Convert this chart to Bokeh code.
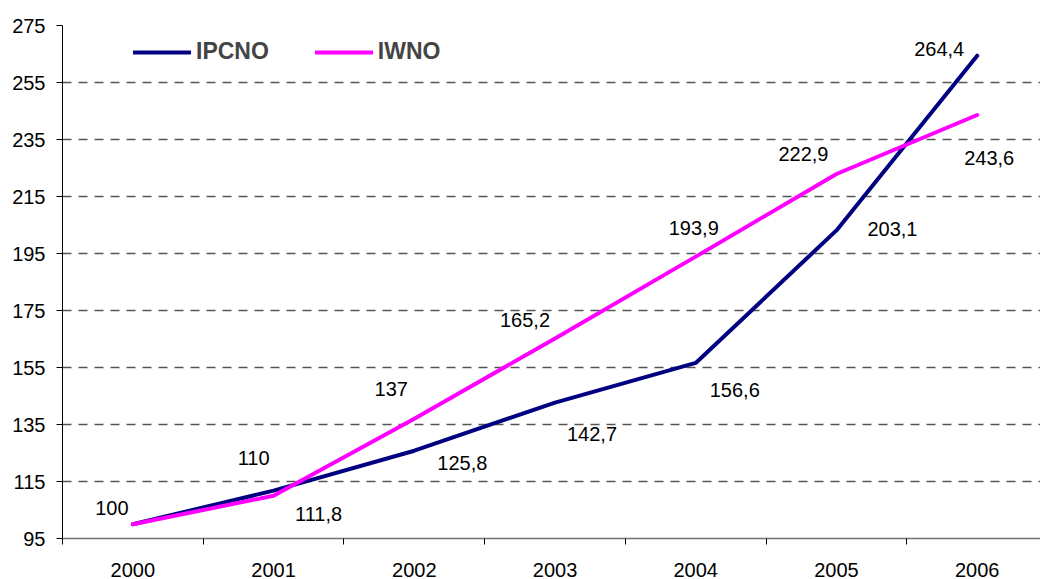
from bokeh.plotting import figure
from bokeh.models import ColumnDataSource, FixedTicker, Range1d, Legend
from bokeh.core.properties import value
from bokeh.embed import file_html
from bokeh.resources import INLINE

years = ["2000", "2001", "2002", "2003", "2004", "2005", "2006"]
ipcno = [100, 111.8, 125.8, 142.7, 156.6, 203.1, 264.4]
iwno = [100, 110, 137, 165.2, 193.9, 222.9, 243.6]
y_ticks = [95, 115, 135, 155, 175, 195, 215, 235, 255, 275]

# label placement (screen pixel offsets from each point)
ipcno_dx = [0, 45, 48, 37, 39, 56, -38]
ipcno_dy = [0, 23, 12, 31, 27, -1, -7]
iwno_dx = [-21, -20, -23, -30, -2, -33, 12]
iwno_dy = [-16, -38, -30, -18, -29, -20, 43]

FONT = "Liberation Sans"
idx = list(range(len(years)))

def fmt(v):
    s = ("%.1f" % v).rstrip("0").rstrip(".")
    return s.replace(".", ",")

p = figure(width=1040, height=579, output_backend="svg", toolbar_location=None,
           x_range=Range1d(-0.5, 6.45), y_range=Range1d(95, 275),
           min_border_left=62, min_border_right=0, min_border_top=25, min_border_bottom=41)
p.outline_line_color = None
p.background_fill_color = "white"
p.border_fill_color = "white"

r1 = p.line(idx, ipcno, line_color="#000080", line_width=4, line_cap="round", line_join="round")
r2 = p.line(idx, iwno, line_color="#FF00FF", line_width=4, line_cap="round", line_join="round")

src_a = ColumnDataSource(dict(x=idx[1:], y=ipcno[1:], t=[fmt(v) for v in ipcno[1:]],
                              dx=ipcno_dx[1:], dy=ipcno_dy[1:]))
src_b = ColumnDataSource(dict(x=idx, y=iwno, t=[fmt(v) for v in iwno], dx=iwno_dx, dy=iwno_dy))
for s in (src_a, src_b):
    p.text(x="x", y="y", text="t", x_offset="dx", y_offset="dy", source=s,
           text_font=value(FONT), text_font_size="20px", text_color="black",
           text_align="center", text_baseline="middle")

# axes
p.xaxis.ticker = FixedTicker(ticks=idx, minor_ticks=[i - 0.5 for i in idx])
p.xaxis.major_label_overrides = {i: y for i, y in zip(idx, years)}
p.xaxis.major_tick_out = 0
p.xaxis.major_tick_in = 0
p.xaxis.minor_tick_out = 6
p.xaxis.minor_tick_in = 0
p.xaxis.minor_tick_line_color = "black"
p.xaxis.axis_line_color = "#707070"
p.xaxis.axis_line_width = 1.5
p.xaxis.major_label_standoff = 18
p.xaxis.major_label_text_font = FONT
p.xaxis.major_label_text_font_size = "20px"
p.xaxis.major_label_text_color = "black"

p.yaxis.ticker = FixedTicker(ticks=y_ticks, minor_ticks=[])
p.yaxis.major_tick_out = 6
p.yaxis.major_tick_in = 0
p.yaxis.axis_line_color = "black"
p.yaxis.major_tick_line_color = "black"
p.yaxis.major_label_standoff = 11
p.yaxis.major_label_text_font = FONT
p.yaxis.major_label_text_font_size = "20px"
p.yaxis.major_label_text_color = "black"

p.xgrid.grid_line_color = None
p.ygrid.grid_line_color = "#555555"
p.ygrid.grid_line_dash = "9 7"
p.ygrid.grid_line_width = 1.3

legend = Legend(items=[("IPCNO", [r1]), ("IWNO", [r2])], orientation="horizontal",
                location=(71, 473))
legend.label_text_font = FONT
legend.label_text_font_style = "bold"
legend.label_text_font_size = "23px"
legend.glyph_width = 58
legend.glyph_height = 24
legend.label_height = 24
legend.label_standoff = 5
legend.spacing = 46
legend.padding = 0
legend.margin = 0
legend.border_line_color = None
legend.background_fill_alpha = 0
p.add_layout(legend)

open("out.html", "w").write(file_html(p, INLINE))
